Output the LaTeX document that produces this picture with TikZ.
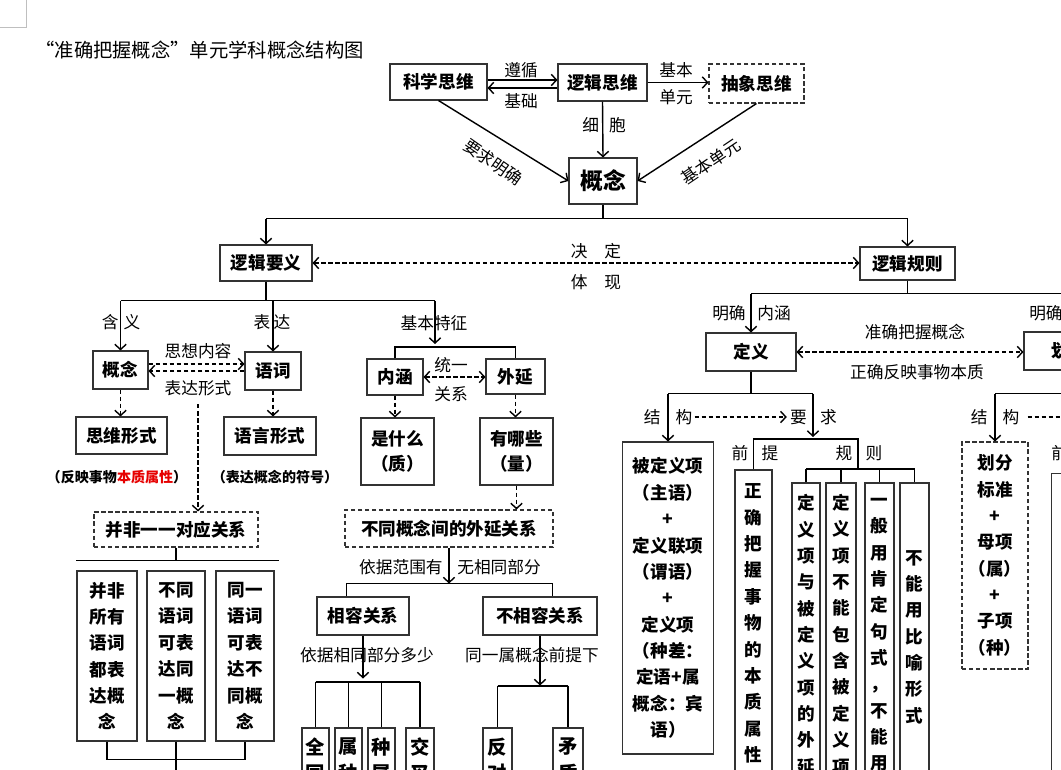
\documentclass[tikz,border=0pt]{standalone}
\usepackage{fontspec}
\setmainfont{Noto Sans CJK SC}
\usetikzlibrary{arrows.meta,calc}
\definecolor{keyred}{RGB}{230,0,0}

\tikzset{
  box/.style={draw=black!80, line width=0.6pt, inner sep=0pt, align=center,
    font=\bfseries\fontsize{10}{15}\selectfont},
  dbox/.style={box, dash pattern=on 2.5pt off 1.5pt},
  sz/.style 2 args={minimum width=#1*0.02cm, minimum height=#2*0.02cm},
  lbl/.style={inner sep=0pt, font=\fontsize{9.5}{11}\selectfont},
  conn/.style={-{Straight Barb[length=3pt,width=6.5pt]}, line width=0.8pt},
  dconn/.style={conn, dash pattern=on 2.5pt off 1.5pt},
  ddconn/.style={dconn, {Straight Barb[length=3pt,width=6.5pt]}-{Straight Barb[length=3pt,width=6.5pt]}},
  trunk/.style={line width=1.1pt},
  twig/.style={line width=0.8pt},
  note/.style={inner sep=0pt, font=\bfseries\fontsize{8}{10}\selectfont},
}

\begin{document}
\begin{tikzpicture}[x=0.02cm, y=-0.02cm]
\fill[white] (0,0) rectangle (1061,770);
\useasboundingbox (0,0) rectangle (1061,770);
\clip (0,0) rectangle (1061,770);

%page corner
\draw[gray!50, line width=0.5pt] (0,27) -| (26,0);

%title
\node[anchor=west, inner sep=0pt, font=\fontsize{11}{13}\selectfont] (title) at (35,50) {“准确把握概念”单元学科概念结构图};

%top row
\node[box, sz={97}{36}] (kxsw) at (438.5,82) {科学思维};
\node[box, sz={89}{37}] (ljsw) at (602.5,82.5) {逻辑思维};
\node[dbox, sz={95}{39}] (cxsw) at (756.5,83.5) {抽象思维};
\node[box, sz={68}{46}, font=\bfseries\fontsize{13}{15}\selectfont] (gn) at (603,181) {概念};

\path ($(kxsw.east)+(0,-2)$) coordinate (zx1) ($(kxsw.east)+(0,6)$) coordinate (jc1);
\draw[conn] (zx1) -- (zx1 -| ljsw.west);
\draw[conn] (jc1 -| ljsw.west) -- (jc1);
\node[lbl] (zx) at (521,70) {遵循};
\node[lbl] (jc) at (521,101) {基础};
\draw[conn] (ljsw.east) -- (ljsw.east -| cxsw.west);
\node[lbl] (jb) at (676,70) {基本};
\node[lbl] (dyuan) at (676,97) {单元};
\draw[conn] (ljsw.south) -- (gn.north);
\node[lbl] (xb) at (604,125) {细\hspace{0.6em}胞};
\draw[conn] (kxsw.south) -- (gn.west);
\draw[conn] (cxsw.south) -- (gn.east);
\node[lbl, rotate=-35] (yqmq) at (493,162) {要求明确};
\node[lbl, rotate=34] (jbdy) at (711,162) {基本单元};

%second level
\node[box, sz={92}{36}] (ljyy) at (266,263) {逻辑要义};
\node[box, sz={95}{33}] (ljgz) at (907.5,263.5) {逻辑规则};
\path (gn.south) ++(0,14) coordinate (gnj);
\draw[trunk] (gn.south) -- (gnj);
\draw[trunk] (ljyy.north |- gnj) -- (ljgz.north |- gnj);
\draw[conn] (ljyy.north |- gnj) -- (ljyy.north);
\draw[conn] (ljgz.north |- gnj) -- (ljgz.north);
\draw[ddconn] (ljyy.east) -- (ljyy.east -| ljgz.west);
\node[lbl] (jd) at (596,251) {决\hspace{1em}定};
\node[lbl] (tx) at (596,282) {体\hspace{1em}现};

%logic meaning
\path (ljyy.south) ++(0,19) coordinate (yyj);
\coordinate (tzj) at (435,347);
\node[box, sz={55}{38}] (gn2) at (120.5,370) {概念};
\node[box, sz={56}{38}] (yc) at (273,371) {语词};
\draw[trunk] (ljyy.south) -- (yyj);
\draw[trunk] (gn2.north |- yyj) -- (tzj |- yyj);
\draw[conn] (gn2.north |- yyj) -- (gn2.north);
\draw[conn] (yc.north |- yyj) -- (yc.north);
\draw[conn] (tzj |- yyj) -- ($(tzj)+(0,-3)$);
\node[lbl] (hy) at (121,322) {含\hspace{0.3em}义};
\node[lbl] (bd) at (272,322) {表\hspace{0.2em}达};
\node[lbl] (jbtz) at (434,323) {基本特征};

\path ($(gn2.east)+(0,-6)$) coordinate (sx1);
\draw[dconn] (sx1) -- (sx1 -| yc.west);
\draw[dconn] (yc.west) -- (yc.west -| gn2.east);
\node[lbl] (sxnr) at (198,351) {思想内容};
\node[lbl] (bdxs) at (198,388) {表达形式};

\node[box, sz={91}{37}] (swxs) at (121.5,435.5) {思维形式};
\node[box, sz={92}{38}] (yyxs) at (270,436) {语言形式};
\draw[dconn] (gn2.south) -- (gn2.south |- swxs.north);
\draw[dconn] (yc.south) -- (yc.south |- yyxs.north);
\node[note] (zs1) at (117,477) {（反映事物\textcolor{keyred}{本质属性}）};
\node[note] (zs2) at (275,477) {（表达概念的符号）};

\node[dbox, sz={164}{35}] (bf) at (176,529.5) {并非一一对应关系};
\path ($(bdxs.south)+(0,8)$) coordinate (bxd);
\draw[dconn] (bxd) -- (bxd |- bf.north);

\node[box, sz={60}{170}] (b1) at (107,656) {并非\\所有\\语词\\都表\\达概\\念};
\node[box, sz={58}{170}] (b2) at (176,656) {不同\\语词\\可表\\达同\\一概\\念};
\node[box, sz={58}{170}] (b3) at (245,656) {同一\\语词\\可表\\达不\\同概\\念};
\path (b2.north) ++(0,-10) coordinate (bfj);
\draw[twig] (bf.south) -- (bf.south |- bfj);
\draw[trunk] (b1.west |- bfj) -- ($(b3.east |- bfj)+(4,0)$);
\path (b2.south) ++(0,18) coordinate (yqj1);
\draw[twig] (b1.south) |- (yqj1) -| (b3.south);
\draw[twig] (b2.south) -- ++(0,40);
\node[lbl] (yq1) at (176,778) {要\hspace{0.4em}求};

%intension and extension
\node[box, sz={56}{36}] (nh) at (395,377) {内涵};
\node[box, sz={59}{35}] (wy) at (515.5,376.5) {外延};
\draw[trunk] (nh.north) |- (tzj) -| (wy.north);
\draw[ddconn] (nh.east) -- (nh.east -| wy.west);
\node[lbl] (ty) at (451,365) {统一};
\node[lbl] (gx) at (451,394) {关系};
\node[box, sz={73}{67}, font=\bfseries\fontsize{10}{14}\selectfont] (ssm) at (397.5,451.5) {是什么\\（质）};
\node[box, sz={73}{67}, font=\bfseries\fontsize{10}{14}\selectfont] (yns) at (516.5,451.5) {有哪些\\（量）};
\draw[dconn] (nh.south) -- (nh.south |- ssm.north);
\draw[dconn] (wy.south) -- (wy.south |- yns.north);

\node[dbox, sz={208}{37}] (wygx) at (449,528.5) {不同概念间的外延关系};
\draw[dconn] (yns.south) -- (yns.south |- wygx.north);
\path (wygx.south) ++(0,36) coordinate (wyj);
\draw[conn] (wygx.south) -- (wyj);
\node[lbl, anchor=east] (yj1) at (443,567) {依据范围有};
\node[lbl, anchor=west] (yj2) at (457,567) {无相同部分};
\node[box, sz={92}{38}] (xr) at (363,616) {相容关系};
\node[box, sz={114}{38}] (bxr) at (540,616) {不相容关系};
\path ($(xr.north west)+(30,0)$) coordinate (xrt) ($(bxr.north west)+(70,0)$) coordinate (bxrt);
\draw[trunk] (xrt) |- (wyj) -| (bxrt);

%compatible
\path (xr.south) ++(0,46) coordinate (xrj);
\draw[conn] (xr.south) -- ++(0,43);
\node[lbl] (yj3) at (367,655) {依据相同部分多少};
\node[box, sz={27}{64}, font=\bfseries\fontsize{11}{15}\selectfont] (q1) at (315.5,760) {全\\同};
\node[box, sz={27}{64}, font=\bfseries\fontsize{11}{15}\selectfont] (q2) at (348.5,760) {属\\种};
\node[box, sz={27}{64}, font=\bfseries\fontsize{11}{15}\selectfont] (q3) at (381.5,760) {种\\属};
\node[box, sz={28}{64}, font=\bfseries\fontsize{11}{15}\selectfont] (q4) at (420,760) {交\\叉};
\draw[trunk] (q1.north |- xrj) -- (q4.north |- xrj);
\foreach \q in {q1,q2,q3,q4}
  \draw[twig] (\q.north |- xrj) -- (\q.north);

%incompatible
\path (bxr.south) ++(0,50) coordinate (bxrj);
\draw[conn] (bxr.south) -- (bxrj);
\node[lbl] (yj4) at (532,655) {同一属概念前提下};
\node[box, sz={29}{64}, font=\bfseries\fontsize{11}{15}\selectfont] (fd) at (497.5,760) {反\\对};
\node[box, sz={30}{64}, font=\bfseries\fontsize{11}{15}\selectfont] (mz) at (568,760) {矛\\盾};
\draw[trunk] (fd.north |- bxrj) -- (mz.north |- bxrj);
\draw[twig] (fd.north |- bxrj) -- (fd.north);
\draw[twig] (mz.north |- bxrj) -- (mz.north);

%logic rules
\path (ljgz.south) ++(0,13) coordinate (gzj0);
\node[box, sz={90}{38}] (dy) at (751,352) {定义};
\node[box, sz={90}{38}] (hf) at (1069,351) {划分};
\draw[trunk] (ljgz.south) -- (gzj0);
\draw[trunk] (dy.north |- gzj0) -- ($(hf.north |- gzj0)+(40,0)$);
\draw[conn] (dy.north |- gzj0) -- (dy.north);
\draw[conn] (hf.north |- gzj0) -- (hf.north);
\node[lbl] (mqnh) at (751.5,313) {明确\hspace{0.7em}内涵};
\node[lbl, anchor=east] (mqwy) at (1063,313) {明确};
\draw[ddconn] (dy.east) -- (dy.east -| hf.west);
\node[lbl] (zqbw) at (915,332) {准确把握概念};
\node[lbl] (zqfy) at (917,372) {正确反映事物本质};

%definition
\path (dy.south) ++(0,22) coordinate (dyj);
\coordinate (yqt) at (813,439);
\node[box, sz={91}{312}] (bdyx) at (668,598) {被定义项\\（主语）\\+\\定义联项\\（谓语）\\+\\定义项\\（种差：\\定语+属\\概念：宾\\语）};
\draw[twig] (dy.south) -- (dyj);
\draw[trunk] (bdyx.north |- dyj) -- (yqt |- dyj);
\draw[conn] (bdyx.north |- dyj) -- (bdyx.north);
\draw[conn] (yqt |- dyj) -- ($(yqt)+(0,-2)$);
\node[lbl] (jg1) at (668,417) {结\hspace{0.9em}构};
\node[lbl] (yq2) at (813.5,417) {要\hspace{0.8em}求};
\draw[dconn] ($(jg1.east)+(2,0)$) -- ($(yq2.west)+(-3,0)$);

\node[box, sz={37}{307}] (zq) at (753.5,623.5) {正\\确\\把\\握\\事\\物\\的\\本\\质\\属\\性};
\coordinate (gzj) at (858,469);
\draw[trunk] (zq.north) |- (yqt) -| (gzj);
\node[lbl] (qt1) at (755,453) {前\hspace{0.8em}提};
\node[lbl] (gz1) at (859,453) {规\hspace{0.8em}则};
\node[box, sz={28}{356}] (r1) at (806,661) {定\\义\\项\\与\\被\\定\\义\\项\\的\\外\\延\\相\\等};
\node[box, sz={30}{303}] (r2) at (841,634.5) {定\\义\\项\\不\\能\\包\\含\\被\\定\\义\\项};
\node[box, sz={29}{409}] (r3) at (879.5,687.5) {一\\般\\用\\肯\\定\\句\\式\\，\\不\\能\\用\\否\\定\\句\\式};
\node[box, sz={29}{308}] (r4) at (914.5,637) {不\\能\\用\\比\\喻\\形\\式};
\draw[trunk] (r1.north |- gzj) -- (r4.north |- gzj);
\foreach \r in {r1,r2,r3,r4}
  \draw[twig] (\r.north |- gzj) -- (\r.north);

%division
\path (hf.south) ++(0,23) coordinate (hfj);
\node[dbox, sz={66}{227}] (hfbz) at (995,555.5) {划分\\标准\\+\\母项\\（属）\\+\\子项\\（种）};
\draw[trunk] (hf.south) -- (hfj);
\draw[trunk] (hfbz.north |- hfj) -- ++(100,0);
\draw[conn] (hfbz.north |- hfj) -- (hfbz.north);
\node[lbl] (jg2) at (995,417) {结\hspace{0.9em}构};
\draw[dconn] ($(jg2.east)+(8,0)$) -- ++(60,0);
\node[lbl, anchor=west] (qt2) at (1051,453) {前};
\node[box, sz={80}{330}, anchor=north west] (qtb) at (1051,473) {};
\end{tikzpicture}
\end{document}
